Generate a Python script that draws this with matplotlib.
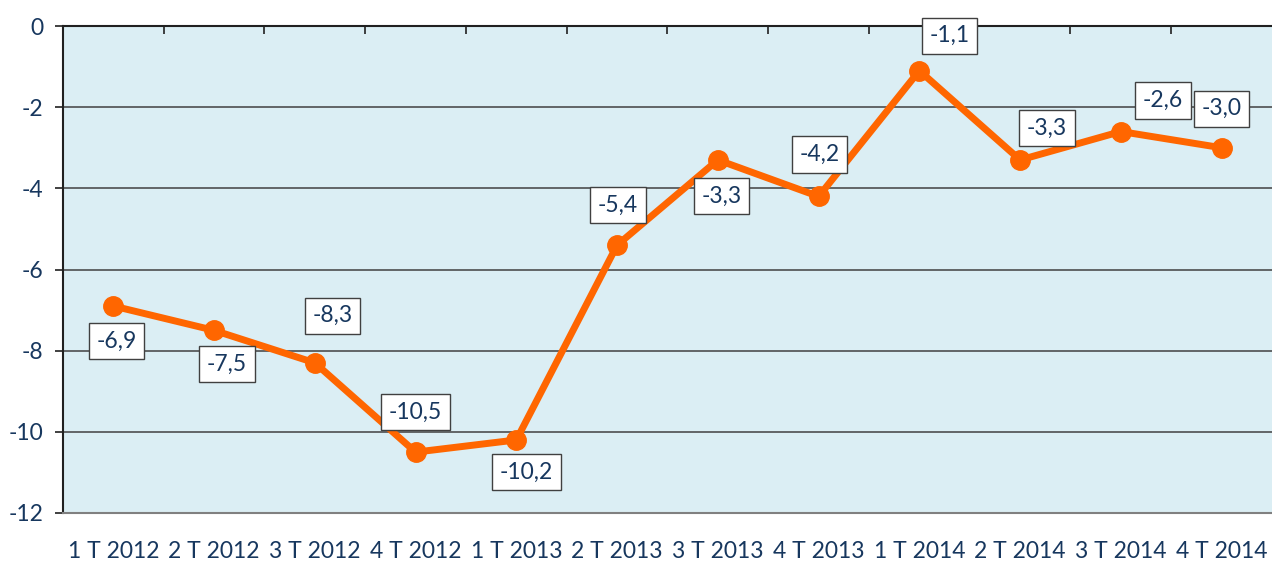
import numpy as np
import matplotlib.pyplot as plt

plt.rcParams['font.family'] = ['Lato', 'DejaVu Sans']

quarters = ['1 T 2012', '2 T 2012', '3 T 2012', '4 T 2012',
            '1 T 2013', '2 T 2013', '3 T 2013', '4 T 2013',
            '1 T 2014', '2 T 2014', '3 T 2014', '4 T 2014']
values = [-6.9, -7.5, -8.3, -10.5, -10.2, -5.4, -3.3, -4.2, -1.1, -3.3, -2.6, -3.0]

# label offsets in pixels (dx, dy up)
offsets = [(3, -35), (13, -34), (18, 47), (0, 40), (10, -32), (1, 40),
           (4, -36), (1, 42), (30, 35), (27, 32), (42, 31), (0, 39)]

navy = '#17375E'
orange = '#FF6600'

fig = plt.figure(figsize=(12.72, 5.62), dpi=100)
ax = fig.add_axes([0.0495, 0.0872, 0.9505, 0.8665])
ax.set_facecolor('#DBEEF4')

x = np.arange(len(quarters))
ax.plot(x, values, color=orange, lw=5, marker='o', markersize=14, zorder=3,
        solid_capstyle='round')

for xi, v, (dx, dy) in zip(x, values, offsets):
    ax.annotate(f'{v:.1f}'.replace('.', ','), (xi, v), xytext=(dx, dy),
                textcoords='offset pixels', ha='center', va='center',
                fontsize=16.5, color=navy, zorder=4,
                bbox=dict(boxstyle='square,pad=0.33', fc='white', ec='#404040', lw=1))

ax.set_xlim(-0.5, 11.5)
ax.set_ylim(-12, 0)
ax.set_yticks(np.arange(-12, 1, 2))
ax.set_yticklabels([str(t) for t in range(-12, 1, 2)])
ax.yaxis.grid(True, color='#404040', lw=1.1)
ax.set_axisbelow(True)

ax.set_xticks(x)
ax.set_xticklabels(quarters)
ax.set_xticks(np.arange(0.5, 11, 1), minor=True)
ax.tick_params(axis='x', which='major', length=0, pad=20, labelsize=16.5, labelcolor=navy)
ax.tick_params(axis='x', which='minor', top=True, bottom=False, direction='in',
               length=6, color='#202020', width=1.2)
ax.tick_params(axis='y', length=6, width=1.2, color='#202020', pad=8,
               labelsize=16.5, labelcolor=navy)

ax.spines['right'].set_visible(False)
ax.spines['left'].set_color('#202020')
ax.spines['left'].set_linewidth(1.5)
ax.spines['top'].set_color('#202020')
ax.spines['top'].set_linewidth(1.5)
ax.spines['bottom'].set_color('#808080')
ax.spines['bottom'].set_linewidth(1.5)

fig.savefig('out.png', dpi=100)
